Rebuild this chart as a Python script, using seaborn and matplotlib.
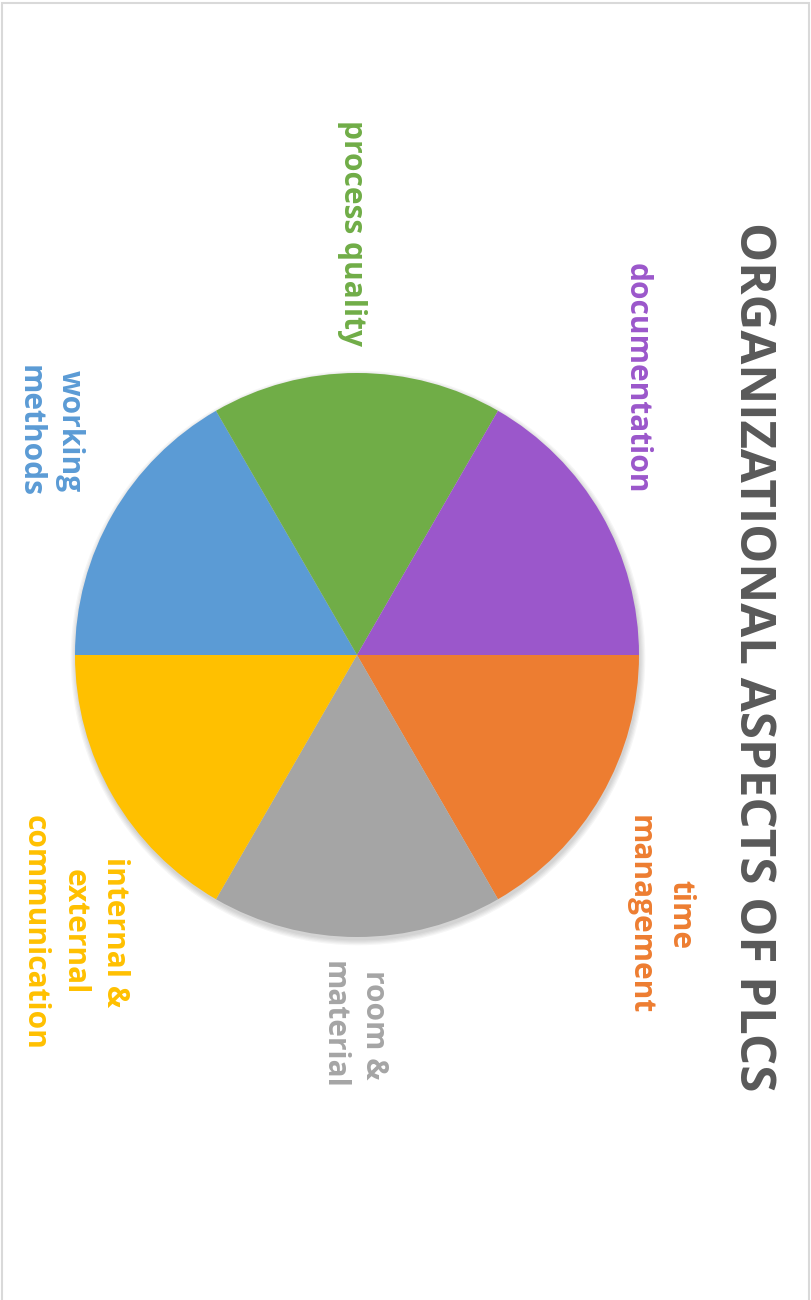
import matplotlib
matplotlib.use("Agg")
import matplotlib.pyplot as plt
import seaborn as sns
from matplotlib.patches import Rectangle, Circle

sns.set_theme(style="white")
plt.rcParams['font.family'] = ['Open Sans', 'DejaVu Sans']

# Data
categories = ["time\nmanagement", "room &\nmaterial", "internal &\nexternal\ncommunication",
              "working\nmethods", "process quality", "documentation"]
values = [1, 1, 1, 1, 1, 1]
colors = ["#ED7D31", "#A5A5A5", "#FFC000", "#5B9BD5", "#70AD47", "#9B57CB"]
title = "ORGANIZATIONAL ASPECTS OF PLCS"

W, H = 812, 1300
fig = plt.figure(figsize=(W / 100, H / 100), dpi=100)
ax = fig.add_axes([0, 0, 1, 1])

cx, cy, r = 357, H - 655, 282

# soft shadow
for i in range(5):
    ax.add_patch(Circle((cx + 1, cy - 3), r + 0.5 + i * 1.2, color="black", alpha=0.035, lw=0, zorder=0))

ax.pie(values, colors=colors, startangle=0, counterclock=False, radius=r,
       center=(cx, cy), wedgeprops=dict(linewidth=0), frame=False)
ax.set_xlim(0, W)
ax.set_ylim(0, H)
ax.set_aspect('equal')
ax.axis('off')

label_pos = [(660, 915), (354, 1025), (75, 932), (50, 431), (352, 233), (637, 378)]
for lab, col, (x, y) in zip(categories, colors, label_pos):
    ax.text(x, H - y, lab, rotation=-90, color=col, fontsize=21.5, fontweight='bold',
            ha='center', va='center', multialignment='center', linespacing=1.45)

ax.text(752, H - 657, title, rotation=-90, color="#595959", fontsize=35.5, fontweight='bold',
        ha='center', va='center')

fig.patches.append(Rectangle((0.002, -0.01), 0.994, 1.008, transform=fig.transFigure,
                             fill=False, edgecolor="#D9D9D9", linewidth=1.5))

fig.savefig("out.png", dpi=100, facecolor="white")
